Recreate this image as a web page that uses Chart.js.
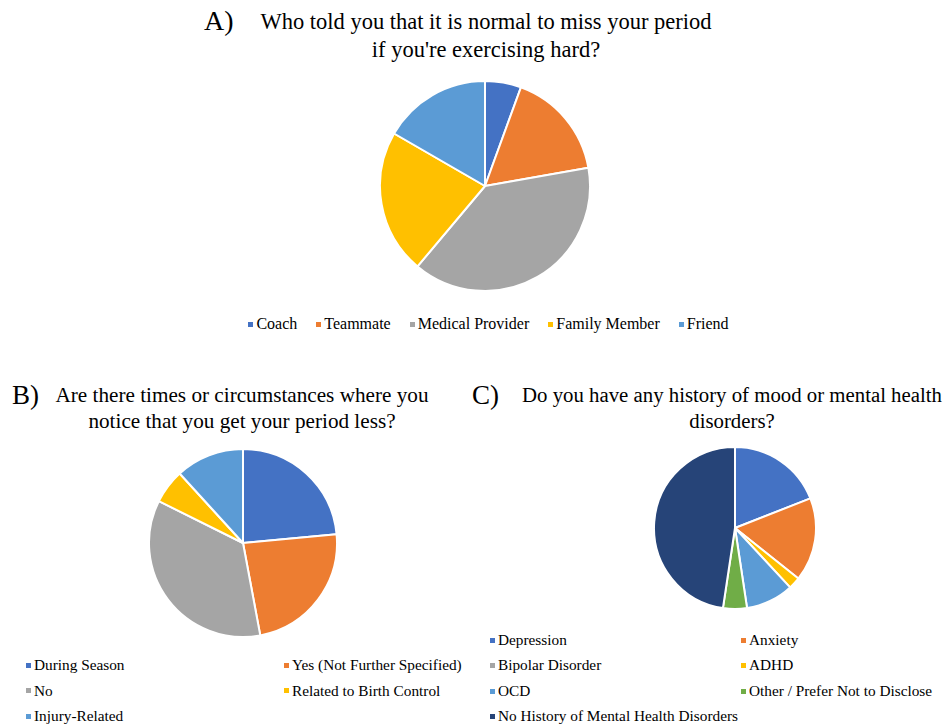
<!DOCTYPE html>
<html>
<head>
<title>Period and mental health survey</title>
<script src="https://cdn.jsdelivr.net/npm/chart.js@4.4.0/dist/chart.umd.min.js"></script>
<style>
	body { margin: 0; background: #fff; font-family: "Liberation Serif", "Times New Roman", serif; color: #000; }
	#page { position: relative; width: 948px; height: 724px; overflow: hidden; }
	canvas { position: absolute; }
	.title { position: absolute; text-align: center; white-space: nowrap; }
	.letter { position: absolute; line-height: 30px; }
	.item { position: absolute; white-space: nowrap; font-size: 15.3px; line-height: 18px; }
	.item span, .rowlegend span { display: inline-block; width: 5px; height: 5px; margin-right: 3px; vertical-align: middle; position: relative; top: -1px; }
	.rowlegend { position: absolute; left: 0; width: 977px; top: 314px; display: flex; justify-content: center; gap: 19px; font-size: 16px; line-height: 20px; }
</style>
</head>
<body>
<div id="page">
	<div class="letter" style="left:204px; top:6px; font-size:28px;">A)</div>
	<div class="title" style="left:236px; width:500px; top:8px; font-size:22.5px; line-height:28px;">Who told you that it is normal to miss your period<br>if you're exercising hard?</div>
	<canvas id="pieA" width="212" height="212" style="left:379px; top:80px;"></canvas>
	<div class="rowlegend" id="legendA"></div>

	<div class="letter" style="left:12px; top:380px; font-size:27px;">B)</div>
	<div class="title" style="left:12px; width:460px; top:382px; font-size:21.2px; line-height:26px;">Are there times or circumstances where you<br>notice that you get your period less?</div>
	<canvas id="pieB" width="190" height="190" style="left:148px; top:448px;"></canvas>
	<div id="legendB"></div>

	<div class="letter" style="left:472px; top:380px; font-size:27px;">C)</div>
	<div class="title" style="left:502px; width:460px; top:382px; font-size:20.8px; line-height:26px;">Do you have any history of mood or mental health<br>disorders?</div>
	<canvas id="pieC" width="164" height="164" style="left:653px; top:446px;"></canvas>
	<div id="legendC"></div>
</div>
<script>
	// data
	const labelsA = ["Coach", "Teammate", "Medical Provider", "Family Member", "Friend"];
	const valuesA = [1, 3, 7, 4, 3];

	const labelsB = ["During Season", "Yes (Not Further Specified)", "No", "Related to Birth Control", "Injury-Related"];
	const valuesB = [4, 4, 6, 1, 2];

	const labelsC = ["Depression", "Anxiety", "Bipolar Disorder", "ADHD", "OCD", "Other / Prefer Not to Disclose", "No History of Mental Health Disorders"];
	const valuesC = [8, 7, 0, 1, 4, 2, 20];

	const colors = ["#4472C4", "#ED7D31", "#A5A5A5", "#FFC000", "#5B9BD5", "#70AD47", "#264478"];

	// pies
	function makePie (id, labels, values) {
		return new Chart(document.getElementById(id), {
			type: 'pie',
			data: {
				labels: labels,
				datasets: [{
					data: values,
					backgroundColor: colors.slice(0, values.length),
					borderColor: '#ffffff',
					borderWidth: 2
				}]
			},
			options: {
				responsive: false,
				animation: false,
				plugins: {
					legend: { display: false },
					tooltip: { enabled: false }
				}
			}
		});
	}
	makePie('pieA', labelsA, valuesA);
	makePie('pieB', labelsB, valuesB);
	makePie('pieC', labelsC, valuesC);

	// legends
	let legA = document.getElementById('legendA');
	labelsA.forEach(function (l, i) {
		let d = document.createElement('div');
		d.innerHTML = '<span style="background:' + colors[i] + '"></span>' + l;
		legA.appendChild(d);
	});

	function gridLegend (id, labels, cols, top, rowH) {
		let box = document.getElementById(id);
		labels.forEach(function (l, i) {
			let d = document.createElement('div');
			d.className = 'item';
			d.style.left = cols[i % 2] + 'px';
			d.style.top = (top + Math.floor(i / 2) * rowH) + 'px';
			d.innerHTML = '<span style="background:' + colors[i] + '"></span>' + l;
			box.appendChild(d);
		});
	}
	gridLegend('legendB', labelsB, [26, 284], 656, 25.5);
	gridLegend('legendC', labelsC, [490, 741], 631, 25.3);
</script>
</body>
</html>
